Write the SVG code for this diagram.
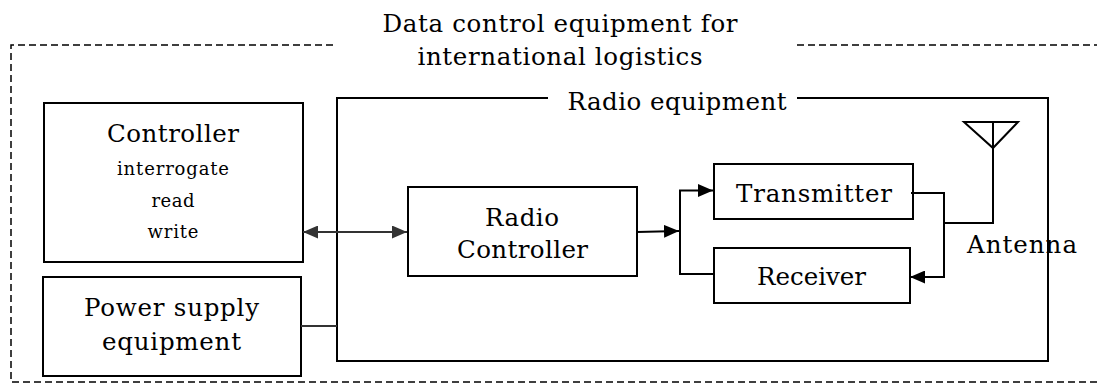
<svg xmlns="http://www.w3.org/2000/svg" width="1097" height="383" viewBox="0 0 1097 383">
<style>
.box{fill:#fff;stroke:#000;stroke-width:2}
.ln{fill:none;stroke:#000;stroke-width:2}
.dash{fill:none;stroke:#000;stroke-width:1.5;stroke-dasharray:7 4}
.big{font-size:24.5px}
.sm{font-size:18px}
</style>
<defs>
<marker id="ah" viewBox="0 0 15 13" refX="15" refY="6.5" markerWidth="15" markerHeight="13" markerUnits="userSpaceOnUse" orient="auto-start-reverse">
<path d="M0,0 L15,6.5 L0,13 Z" fill="#000"/>
</marker>
<marker id="ahg" viewBox="0 0 15 13" refX="15" refY="6.5" markerWidth="15" markerHeight="13" markerUnits="userSpaceOnUse" orient="auto-start-reverse">
<path d="M0,0 L15,6.5 L0,13 Z" fill="#333"/>
</marker>
</defs>
<g font-family="DejaVu Serif, Liberation Serif, serif" text-anchor="middle" fill="#000">
<g id="outer">
<path class="dash" d="M333,45 H11 V382 H1097 M797,45 H1097"/>
<text class="big" x="560" y="32" textLength="355">Data control equipment for</text>
<text class="big" x="560" y="65" textLength="285">international logistics</text>
</g>
<g id="radio-equipment">
<path class="ln" d="M548,98 H337 V361 H1048 V98 H797"/>
<text class="big" x="677" y="110" textLength="219">Radio equipment</text>
</g>
<g id="controller">
<rect class="box" x="44" y="103" width="259" height="159"/>
<text class="big" x="173" y="142" textLength="132">Controller</text>
<text class="sm" x="173" y="175" textLength="112">interrogate</text>
<text class="sm" x="173" y="207" textLength="43">read</text>
<text class="sm" x="173" y="238" textLength="51">write</text>
</g>
<g id="power-supply">
<rect class="box" x="43" y="277" width="258" height="99"/>
<text class="big" x="171.5" y="316" textLength="175">Power supply</text>
<text class="big" x="171.5" y="350" textLength="139">equipment</text>
</g>
<g id="radio-controller">
<rect class="box" x="408" y="187" width="229" height="89"/>
<text class="big" x="522" y="226" textLength="74">Radio</text>
<text class="big" x="522.5" y="258" textLength="131">Controller</text>
</g>
<g id="transmitter">
<rect class="box" x="714" y="164" width="199" height="55"/>
<text class="big" x="814" y="202" textLength="156">Transmitter</text>
</g>
<g id="receiver">
<rect class="box" x="714" y="248" width="196" height="55"/>
<text class="big" x="811.5" y="285" textLength="109">Receiver</text>
</g>
<g id="antenna">
<path class="ln" d="M964,122 H1018 L993,148 Z M993,122 V148"/>
<text class="big" x="1022" y="253" textLength="110">Antenna</text>
</g>
</g>
<g id="connectors">
<line x1="303" y1="232" x2="407" y2="232" stroke="#333" stroke-width="2" marker-start="url(#ahg)" marker-end="url(#ahg)"/>
<line x1="301" y1="326" x2="337" y2="326" stroke="#333" stroke-width="2"/>
<line class="ln" x1="637" y1="232" x2="679" y2="231" marker-end="url(#ah)"/>
<path class="ln" d="M714,274 H680 V190.5 H713" marker-end="url(#ah)"/>
<path class="ln" d="M911,193 H944 V277 H910" marker-end="url(#ah)"/>
<path class="ln" d="M943,223 H993 V148"/>
</g>
</svg>
